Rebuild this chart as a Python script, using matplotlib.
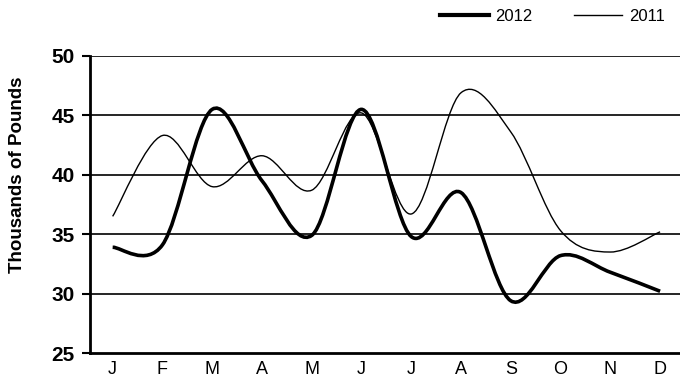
import matplotlib
matplotlib.use('Agg')
import matplotlib.pyplot as plt
from matplotlib.path import Path
from matplotlib.patches import PathPatch
from matplotlib.lines import Line2D
import numpy as np

months = ['J', 'F', 'M', 'A', 'M', 'J', 'J', 'A', 'S', 'O', 'N', 'D']
sales_2012 = [33.9, 34.1, 45.5, 39.5, 34.9, 45.5, 34.8, 38.5, 29.4, 33.2, 31.8, 30.2]
sales_2011 = [36.5, 43.3, 39.0, 41.6, 38.7, 45.2, 36.7, 46.9, 43.6, 35.3, 33.5, 35.2]
y_ticks = [25, 30, 35, 40, 45, 50]

plt.rcParams['font.family'] = ['Liberation Sans', 'DejaVu Sans']


def smooth_path(x, y):
    # Excel-style smoothed line: cubic Bezier segments with Catmull-Rom handles
    pts = np.column_stack([x, y]).astype(float)
    n = len(pts)
    verts = [pts[0]]
    codes = [Path.MOVETO]
    for i in range(n - 1):
        p0 = pts[i - 1] if i > 0 else pts[i]
        p1 = pts[i]
        p2 = pts[i + 1]
        p3 = pts[i + 2] if i + 2 < n else pts[i + 1]
        c1 = p1 + (p2 - p0) / 6.0
        c2 = p2 - (p3 - p1) / 6.0
        verts += [c1, c2, p2]
        codes += [Path.CURVE4] * 3
    return Path(verts, codes)


fig = plt.figure(figsize=(6.8, 3.88), dpi=100)
ax = fig.add_axes([0.132, 0.09, 0.868, 0.766])

x = np.arange(len(months))
for yv in y_ticks[1:]:
    ax.axhline(yv, color='black', lw=1.2, zorder=1)

ax.add_patch(PathPatch(smooth_path(x, sales_2011), fill=False, edgecolor='black',
                       lw=1.0, capstyle='butt', zorder=3))
ax.add_patch(PathPatch(smooth_path(x, sales_2012), fill=False, edgecolor='black',
                       lw=2.6, capstyle='butt', zorder=4))

ax.set_xlim(-0.46, 11.4)
ax.set_ylim(25, 50)
ax.set_yticks(y_ticks)
ax.set_xticks(x)
ax.set_xticklabels(months, fontsize=13)
ax.tick_params(axis='x', length=0, pad=6)
ax.tick_params(axis='y', length=6, width=1.5, pad=5, labelsize=15)
for lbl in ax.get_yticklabels():
    lbl.set_fontweight('bold')
fig.text(18 / 680, 1 - 175 / 388, 'Thousands of Pounds', rotation=90, fontsize=13.5,
         fontweight='bold', ha='center', va='center')

for side in ['top', 'right']:
    ax.spines[side].set_visible(False)
ax.spines['left'].set_linewidth(2)
ax.spines['bottom'].set_linewidth(2)

handles = [Line2D([], [], color='black', lw=3.0),
           Line2D([], [], color='black', lw=1.0)]
fig.legend(handles, ['2012', '2011'], loc='upper right', bbox_to_anchor=(1.0, 1.015),
           ncol=2, frameon=False, fontsize=12, handlelength=2.9, handletextpad=0.42,
           columnspacing=2.46)

fig.savefig('out.png', dpi=100)
